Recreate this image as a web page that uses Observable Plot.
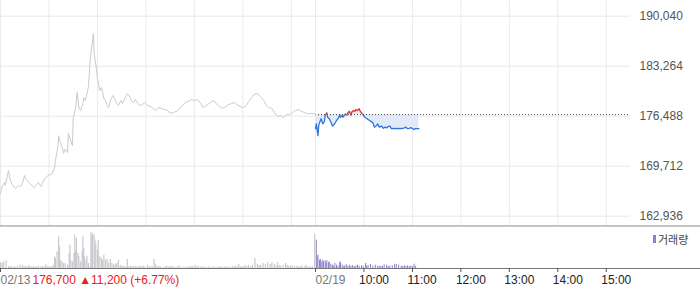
<!DOCTYPE html>
<html>
<head>
<meta charset="utf-8">
<script src="https://cdn.jsdelivr.net/npm/d3@7"></script>
<script src="https://cdn.jsdelivr.net/npm/@observablehq/plot@0.6"></script>
<style>
  html, body { margin: 0; padding: 0; background: #fff; overflow: hidden; }
  #chart { position: relative; width: 700px; height: 289px; }
  #chart svg { display: block; }
  #legend { position: absolute; left: 653px; top: 231px; font: 11px "Noto Sans CJK KR", sans-serif; color: #444; display: flex; align-items: center; }
  #legend span.sw { display: inline-block; width: 3px; height: 8px; background: #8f7fc9; margin-right: 2px; }
</style>
</head>
<body>
<div id="chart"></div>
<script>
// ---- data (minutes counted from 09:00 of each session) ----
const prevClose = 176700;
const prevChange = 11200;
const prevChangePct = 6.77;
const volumeLabel = "거래량";

const yTicks = [162936, 169712, 176488, 183264, 190040];
const xTickMin = [0, 390, 450, 510, 570, 630, 690, 750];
const xTickLabels = ["02/13", "02/19", "10:00", "11:00", "12:00", "13:00", "14:00", "15:00"];
const xGridMin = [0, 60, 120, 180, 240, 300, 360, 390, 450, 510, 570, 630, 690, 750];

// previous session (02/13) price: [minute, price]
const prevDay = [
  [0,166000],[2,166950],[5,167500],[6,167100],[9,168700],[10,169100],[12,167800],[15,167100],[19,166700],[22,167100],
  [25,166950],[27,167350],[30,168450],[31,168050],[33,167800],[37,167350],[40,166950],[42,166800],[45,167250],[47,167500],
  [50,166950],[52,167500],[56,168200],[59,168450],[64,168700],[67,169550],[68,170500],[71,172250],[72,173850],[74,172900],
  [77,172100],[78,171450],[80,172000],[83,171550],[84,174150],[87,173200],[89,172500],[90,176300],[93,177550],[95,179700],
  [97,177650],[99,177250],[102,178200],[103,179000],[105,178600],[108,179950],[109,180650],[111,184050],[114,186750],[115,187700],
  [116,185000],[119,182700],[120,181600],[123,179950],[125,180400],[128,178900],[130,178600],[132,177950],[134,177650],[136,178600],
  [139,179300],[141,178900],[144,178200],[146,177950],[149,178600],[151,178200],[154,178900],[157,179550],[160,179150],[162,178600],
  [165,178350],[167,178750],[170,178200],[173,177950],[176,178050],[178,178350],[182,177950],[186,177800],[188,177650],[192,177250],
  [196,177650],[199,177550],[203,177400],[207,177250],[210,176850],[214,177000],[218,177150],[222,177550],[225,177950],[229,178350],
  [233,178500],[236,178750],[240,178600],[244,178750],[248,178200],[251,177650],[255,177950],[260,178350],[264,178600],[267,178200],
  [271,177800],[275,177550],[279,177800],[282,178050],[286,178200],[290,178350],[293,178050],[297,177800],[301,177650],[305,178050],
  [308,178600],[312,179150],[314,179450],[318,179550],[322,179150],[326,178600],[329,177950],[332,177650],[336,177550],[339,177000],
  [343,176450],[347,176600],[350,176300],[354,176700],[358,176700],[362,177000],[365,177250],[369,177400],[373,177150],[376,177000],
  [380,176850],[384,176850],[388,176850],[390,176700]
];

// current session (02/19) price: [minute, price]
const today = [
  [0,174800],[1,175450],[3,173850],[4,175250],[6,175900],[7,176150],[9,175450],[11,175750],[12,176600],[14,176950],
  [15,176350],[17,176150],[19,175700],[21,175150],[24,175500],[26,175900],[28,176150],[30,176700],[31,176350],[33,176600],
  [34,176350],[36,176650],[37,176800],[39,176600],[40,176950],[42,177150],[44,176600],[45,177050],[47,177250],[49,177150],
  [50,177400],[52,177250],[54,177500],[55,177250],[57,176950],[59,176650],[61,176350],[63,176200],[65,176050],[67,175900],
  [69,175750],[71,175600],[73,175000],[75,175150],[77,175450],[79,175000],[82,175150],[84,174850],[86,175000],[88,174900],
  [90,175100],[92,175150],[94,174800],[96,174850],[98,174800],[100,174850],[102,174800],[104,174850],[106,174800],[108,174850],
  [110,174900],[112,175000],[114,174800],[116,174850],[118,174950],[120,174800],[122,174700],[124,174800],[128,174800]
];

// previous session volume: [minute, shares]
const prevVol = [
  [0,5700],[2,5000],[4,6700],[7,7700],[10,2000],[12,1500],[14,1700],[17,1500],[19,1300],[21,1700],[24,3300],[27,3300],[29,1500],
  [31,2300],[33,1800],[35,3000],[37,1500],[39,1700],[41,1300],[43,1500],[45,1600],[47,2300],[50,1500],[52,1700],[54,1500],
  [56,3700],[58,1800],[60,1700],[62,1500],[64,2300],[66,3000],[67,11700],[68,10000],[70,16700],[72,31700],[73,21700],[74,8300],
  [76,6700],[78,5000],[80,5000],[83,3300],[85,15000],[86,23300],[87,8300],[89,6700],[91,15000],[92,33300],[93,16700],[94,30000],
  [96,15000],[97,11700],[99,6700],[101,16700],[102,31700],[103,20000],[104,11700],[106,8300],[107,12300],[109,5000],[111,1700],
  [112,35700],[113,31700],[114,35000],[116,33300],[117,28300],[118,23300],[120,18300],[121,28300],[123,11700],[125,10000],
  [126,8300],[128,13300],[130,8300],[132,9000],[134,5000],[136,9000],[138,5000],[140,3300],[142,4300],[144,5000],[146,8300],
  [148,2000],[149,3300],[151,1800],[153,2300],[155,1500],[157,9000],[159,1700],[161,2300],[163,1500],[165,2000],[167,1800],
  [169,1700],[171,1500],[173,2300],[175,1700],[177,2300],[179,1500],[182,3300],[184,1600],[186,1700],[188,1500],[190,9000],
  [192,4300],[194,1800],[196,2300],[198,1500],[201,1200],[204,1800],[206,2300],[208,1200],[210,2300],[212,1500],[214,1700],
  [217,1300],[219,1500],[221,2700],[224,1200],[227,1500],[230,1300],[233,1700],[235,1200],[237,2300],[239,1500],[241,3300],
  [243,1600],[245,2300],[248,1300],[250,1500],[252,1500],[255,1200],[258,1700],[261,1300],[264,1700],[267,1200],[270,1500],
  [272,1300],[274,1700],[277,1200],[279,1400],[281,1500],[284,1300],[287,1700],[289,1400],[291,2300],[293,1500],[295,4000],
  [297,1500],[299,1700],[301,1800],[303,2700],[305,1800],[307,3300],[310,2000],[312,3300],[315,10000],[318,4300],[320,3000],
  [322,3000],[325,5000],[328,4300],[331,5700],[334,4000],[336,6000],[339,4300],[341,2500],[343,5700],[345,3000],[347,2300],
  [350,3000],[353,5000],[355,3000],[357,2300],[359,1800],[361,3000],[364,2300],[367,2300],[369,1500],[371,1700],[373,2700],
  [376,1500],[378,3300],[380,1500],[382,1700],[384,1300],[386,1700],[389,34300]
];

// current session volume: [minute, shares]
const todayVol = [
  [1,28300],[2,12300],[3,13300],[5,8300],[6,9000],[7,6700],[9,8300],[10,6700],[12,7700],[13,5000],[14,7700],[16,5700],
  [17,6700],[19,4300],[21,3300],[22,2500],[24,5000],[26,3300],[28,2300],[30,5700],[31,6300],[33,3300],[35,2000],[36,2300],
  [38,4000],[40,2300],[42,3300],[44,2300],[46,3000],[48,2000],[50,2300],[52,3300],[54,2300],[57,2700],[59,2300],[62,5000],
  [63,2300],[65,3000],[68,4000],[71,2300],[74,3300],[77,2300],[79,2000],[81,2300],[83,2000],[85,3700],[88,3300],[90,2000],
  [92,2300],[95,2700],[98,4300],[100,4000],[103,3300],[106,2300],[108,2000],[110,3000],[112,2000],[114,2700],[116,2000],
  [118,2300],[120,2000],[122,4300],[124,2300]
];

// ---- layout helpers ----
const sessionLen = 390;          // minutes per session
const xMax = 2 * sessionLen;     // domain end (15:30 of 02/19)
const plotW = 630;               // plotting width; axis labels to the right
const xFull = xMax * 700 / plotW; // domain value reaching the right edge of the page
const font = "'Liberation Sans', Arial, sans-serif";
const upColor = "#ee2b2b", downColor = "#2f74da";

const pricePlot = Plot.plot({
  width: 700, height: 226,
  marginLeft: 0, marginRight: 70, marginTop: 0, marginBottom: 0,
  style: { background: "transparent", fontFamily: font, fontSize: "12px", color: "#555", overflow: "visible" },
  x: { domain: [0, xMax], axis: null },
  y: { domain: [161540, 192168], axis: "right", ticks: yTicks, tickFormat: d3.format(","), tickSize: 0, tickPadding: 9, label: null },
  marks: [
    Plot.ruleY(yTicks, { x1: 0, x2: xMax, stroke: "#e8e8e8" }),
    Plot.ruleX(xGridMin, { stroke: "#ebebeb" }),
    Plot.ruleY([161608], { x1: 0, x2: xFull, stroke: "#8a8a8a" }),
    Plot.areaY(today, { x: d => d[0] + sessionLen, y1: prevClose, y2: d => d[1], fill: "#e2eaf8" }),
    Plot.ruleY([prevClose], { x1: sessionLen, x2: xMax, stroke: "#444", strokeDasharray: "1,2" }),
    Plot.line(prevDay, { x: d => d[0], y: d => d[1], stroke: "#cbcbcf", strokeWidth: 1 }),
    Plot.line(today, { x: d => d[0] + sessionLen, y: d => d[1], stroke: downColor, strokeWidth: 1.3 }),
    Plot.line(today, { x: d => d[0] + sessionLen, y: d => d[1], stroke: upColor, strokeWidth: 1.3 })
  ]
});

// colour today's line red above the previous close and blue below it
{
  const ns = "http://www.w3.org/2000/svg";
  const yB = pricePlot.scale("y").apply(prevClose);
  const defs = document.createElementNS(ns, "defs");
  const mkClip = (id, y, h) => {
    const cp = document.createElementNS(ns, "clipPath");
    cp.setAttribute("id", id);
    cp.setAttribute("clipPathUnits", "userSpaceOnUse");
    const r = document.createElementNS(ns, "rect");
    r.setAttribute("x", -10); r.setAttribute("y", y);
    r.setAttribute("width", 720); r.setAttribute("height", h);
    cp.appendChild(r); defs.appendChild(cp);
  };
  mkClip("aboveClose", -10, yB + 10);
  mkClip("belowClose", yB, 300);
  pricePlot.insertBefore(defs, pricePlot.firstChild);
  const wrapLast = (color, clipId) => {
    const gs = Array.from(pricePlot.querySelectorAll("g")).filter(g => (g.getAttribute("stroke") || "").toLowerCase() === color);
    const g = gs[gs.length - 1];
    if (!g) return;
    const wrap = document.createElementNS(ns, "g");
    wrap.setAttribute("clip-path", `url(#${clipId})`);
    g.parentNode.insertBefore(wrap, g);
    wrap.appendChild(g);
  };
  wrapLast(upColor, "aboveClose");
  wrapLast(downColor, "belowClose");
}

const tickData = xTickMin.map((m, i) => ({ m, label: xTickLabels[i], date: xTickLabels[i].includes("/") }));
const changeText = `${d3.format(",")(prevClose)} ▲${d3.format(",")(prevChange)} (+${prevChangePct.toFixed(2)}%)`;

const volPlot = Plot.plot({
  width: 700, height: 63,
  marginLeft: 0, marginRight: 70, marginTop: 0, marginBottom: 21,
  style: { background: "transparent", fontFamily: font, fontSize: "12px", color: "#333", overflow: "visible" },
  x: { domain: [0, xMax], axis: null },
  y: { domain: [0, 42000], axis: null },
  marks: [
    Plot.ruleX(prevVol, { x: d => d[0], y1: 0, y2: d => d[1], stroke: "#c8c9cd", strokeWidth: 1.2 }),
    Plot.ruleX(todayVol, { x: d => d[0] + sessionLen, y1: 0, y2: d => d[1], stroke: "#8f7fc9", strokeWidth: 1 }),
    Plot.ruleY([0], { x1: 0, x2: xFull, stroke: "#777" }),
    Plot.ruleX(xTickMin, { y1: 0, y2: -4000, stroke: "#555" }),
    Plot.text(tickData.filter(d => d.date), { x: "m", text: "label", frameAnchor: "bottom", dy: 15, textAnchor: "start", fill: "#777" }),
    Plot.text(tickData.filter(d => !d.date), { x: "m", text: "label", frameAnchor: "bottom", dy: 15, dx: -5, textAnchor: "start", fill: "#222" }),
    Plot.text([changeText], { x: 0, text: d => d, frameAnchor: "bottom", dy: 15, dx: 32, textAnchor: "start", fill: "#e82020" })
  ]
});

const chart = document.getElementById("chart");
chart.appendChild(pricePlot);
chart.appendChild(volPlot);
const legend = document.createElement("div");
legend.id = "legend";
legend.innerHTML = `<span class="sw"></span><span>${volumeLabel}</span>`;
chart.appendChild(legend);
</script>
</body>
</html>
